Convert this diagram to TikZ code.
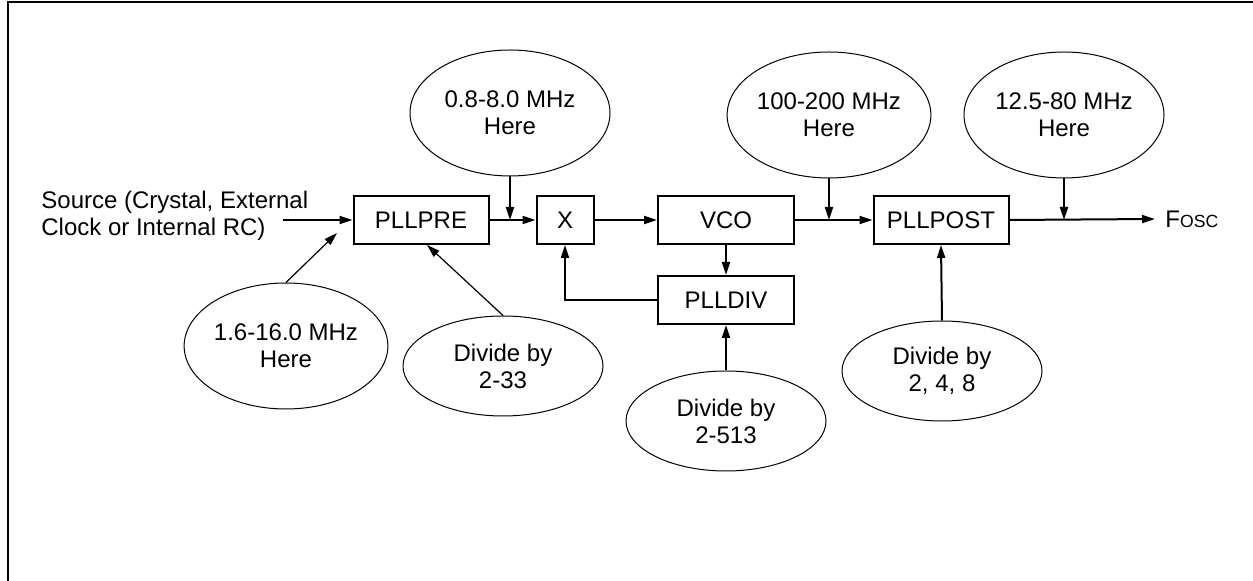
\documentclass[tikz,border=0pt]{standalone}
\usepackage{fontspec}
\setmainfont{Liberation Sans}
\usetikzlibrary{arrows.meta, calc, shapes.geometric}

\tikzset{
    block/.style={draw, line width=1pt, minimum height=24pt, inner sep=0pt,
        font=\fontsize{12}{13.5}\selectfont},
    bubble/.style={draw, ellipse, line width=0.5pt, minimum width=100pt,
        inner sep=0pt, align=center, font=\fontsize{12}{13.5}\selectfont},
    flow/.style={line width=1pt, -{Triangle[length=6.5pt, width=4pt]}},
    feed/.style={line width=0.6pt, -{Triangle[length=6.5pt, width=4pt]}}
}

\begin{document}
\begin{tikzpicture}[x=0.5pt, y=-0.5pt]

    \useasboundingbox (0,0) rectangle (1253,581);

    % Draw the frame
    \draw[line width=1pt] (8,581) -- (8,2) -- (1253,2);

    % Draw the blocks
    \node[block, minimum width=67.5pt] (pllpre) at (421,220) {PLLPRE};
    \node[block, minimum width=28.5pt] (mult) at (565,220) {X};
    \node[block, minimum width=68pt] (vco) at (726,220) {VCO};
    \node[block, minimum width=68pt] (plldiv) at (726,300) {PLLDIV};
    \node[block, minimum width=67.5pt] (pllpost) at (941,220) {PLLPOST};

    % Draw the ellipses
    \node[bubble, minimum height=63pt] (fref) at (510,113) {0.8-8.0 MHz\\Here};
    \node[bubble, minimum height=63pt] (fvco) at (829,115) {100-200 MHz\\Here};
    \node[bubble, minimum height=63pt] (fout) at (1064,115) {12.5-80 MHz\\Here};
    \node[bubble, minimum height=63pt] (fin) at (286,346) {1.6-16.0 MHz\\Here};
    \node[bubble, minimum height=50pt] (divpre) at (503,366) {Divide by\\2-33};
    \node[bubble, minimum height=50pt] (divfb) at (726,421) {Divide by\\2-513};
    \node[bubble, minimum height=50pt] (divpost) at (942,371) {Divide by\\2, 4, 8};

    % Add the texts
    \node[anchor=west, align=left, inner sep=0pt, font=\fontsize{12}{13.5}\selectfont]
        (source) at (41,216) {Source (Crystal, External\\Clock or Internal RC)};
    \node[anchor=west, inner sep=0pt, font=\fontsize{12}{13.5}\selectfont]
        (fosc) at (1165,219) {F{\fontsize{8.8}{10}\selectfont OSC}};
    \coordinate (srcin) at (283,220);
    \coordinate (fintip) at (337,233);

    % Draw the arrows
    \draw[flow] (srcin) -- (pllpre.west);
    \draw[flow] (pllpre.east) -- (mult.west);
    \draw[flow] (mult.east) -- (vco.west);
    \draw[flow] (vco.east) -- (pllpost.west);
    \draw[flow] (pllpost.east) -- ([xshift=-5pt]fosc.west);
    \draw[flow] (fref.south) -- (fref.south |- mult.west);
    \draw[flow] (fvco.south) -- (fvco.south |- pllpost.west);
    \draw[flow] (fout.south) -- (fout.south |- pllpost.east);
    \draw[flow] (vco.south) -- (plldiv.north);
    \draw[flow] (plldiv.west) -| (mult.south);
    \draw[flow] (divfb.north) -- (plldiv.south);
    \draw[flow] (divpost.north) -- (pllpost.south);
    \draw[feed] (divpre.north) -- ([xshift=3pt]pllpre.south);
    \draw[feed] (fin.north) -- (fintip);

\end{tikzpicture}
\end{document}
